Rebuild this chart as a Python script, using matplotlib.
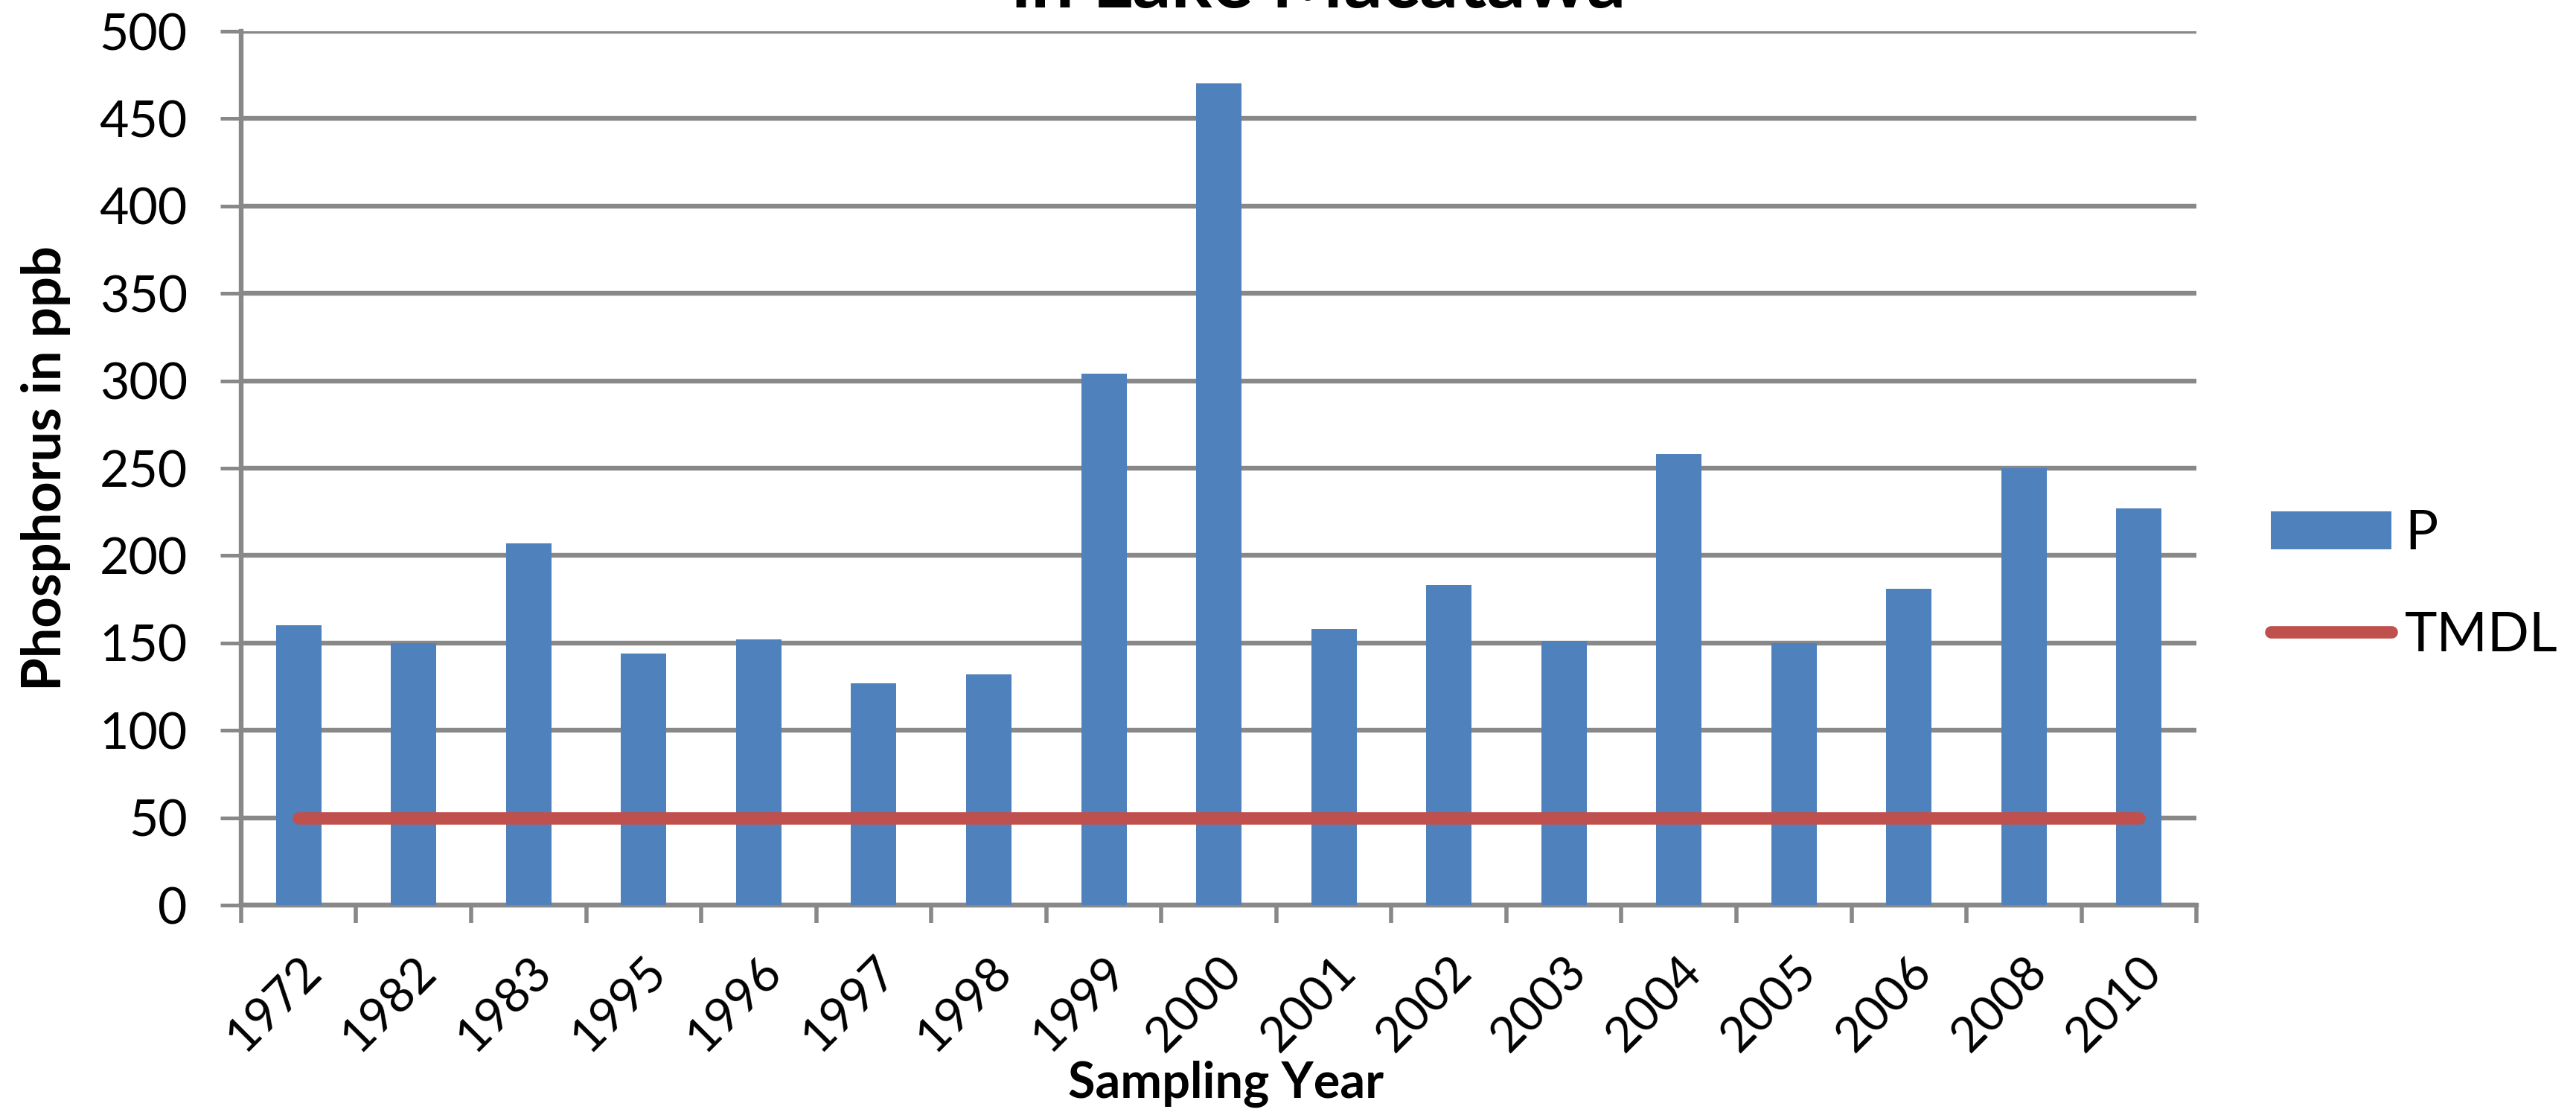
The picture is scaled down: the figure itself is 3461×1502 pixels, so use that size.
import numpy as np
import matplotlib
matplotlib.use("Agg")
import matplotlib.pyplot as plt
from matplotlib.ticker import FixedLocator

plt.rcParams['font.family'] = ['Lato', 'DejaVu Sans']

years = ['1972', '1982', '1983', '1995', '1996', '1997', '1998', '1999', '2000',
         '2001', '2002', '2003', '2004', '2005', '2006', '2008', '2010']
p_vals = [160, 150, 207, 144, 152, 127, 132, 304, 470,
          158, 183, 151, 258, 150, 181, 250, 227]
tmdl = [50] * len(years)

BAR_BLUE = '#4F81BD'
LINE_RED = '#C0504D'
GRID_GRAY = '#888888'

fig = plt.figure(figsize=(34.61, 15.02), dpi=100)
ax = fig.add_axes([0.0936, 0.1904, 0.7591, 0.7816])

x = np.arange(len(years))
bars = ax.bar(x, p_vals, width=0.395, color=BAR_BLUE, label='P', zorder=3)
line, = ax.plot(x, tmdl, color=LINE_RED, lw=12, solid_capstyle='round', label='TMDL', zorder=4)

ax.set_xlim(-0.5, len(years) - 0.5)
ax.set_ylim(0, 500)
ax.set_yticks(range(0, 501, 50))
ax.yaxis.grid(True, color=GRID_GRAY, lw=4.6, zorder=0)
ax.set_axisbelow(True)

for s in ['top', 'right']:
    ax.spines[s].set_visible(False)
ax.spines['left'].set_color(GRID_GRAY)
ax.spines['left'].set_linewidth(4.6)
ax.spines['bottom'].set_color(GRID_GRAY)
ax.spines['bottom'].set_linewidth(4.6)

ax.set_xticks(x)
ax.set_xticklabels(years, rotation=45, ha='right', rotation_mode='anchor', fontsize=47)
ax.xaxis.set_minor_locator(FixedLocator(np.arange(-0.5, len(years), 1)))
ax.tick_params(axis='x', which='major', length=0, pad=42)
ax.tick_params(axis='x', which='minor', length=17, width=4, color=GRID_GRAY)
ax.tick_params(axis='y', length=20, width=3.6, color=GRID_GRAY, labelsize=49, pad=32)

ax.set_ylabel('Phosphorus in ppb', fontsize=52, fontweight='bold')
ax.yaxis.set_label_coords(-0.0872, 0.5)
ax.set_xlabel('Sampling Year', fontsize=48, fontweight='bold')
ax.xaxis.set_label_coords(0.5036, -0.178)

# title is cut by the top edge, like in the source image
fig.text(0.512, 0.9933, 'in Lake Macatawa', fontsize=74, fontweight='bold',
         ha='center', va='baseline')

fig.legend([bars, line], ['P', 'TMDL'], loc='center left',
           bbox_to_anchor=(0.8815, 0.4767), frameon=False, fontsize=53,
           handlelength=2.2, labelspacing=0.95, handletextpad=0.25,
           borderpad=0, borderaxespad=0)

fig.savefig('out.png', dpi=100)
